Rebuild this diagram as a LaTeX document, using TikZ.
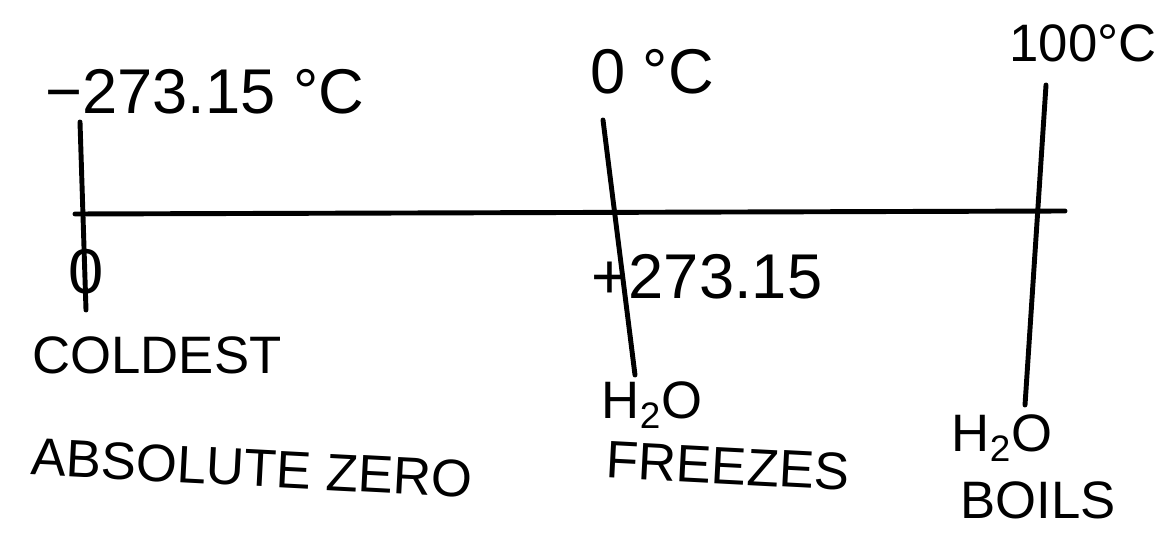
\documentclass[tikz,border=0pt]{standalone}
\usepackage{fontspec}
\setmainfont{Liberation Sans}
\usetikzlibrary{positioning}
\tikzset{
  pen/.style={line width=2.8pt, line cap=round},
  lbl/.style={inner sep=0pt, font=\fontsize{30}{34}\selectfont},
  biglbl/.style={inner sep=0pt, font=\fontsize{36}{40}\selectfont}
}

\begin{document}
\begin{tikzpicture}[x=0.02cm, y=-0.02cm]
    \useasboundingbox (0,0) rectangle (1155,533);

    % temperature axis
    \coordinate (axisL) at (75,214);
    \coordinate (axisR) at (1065,211);
    \draw[pen] (axisL) -- (axisR);

    % marks
    \coordinate (zeroTop) at (80,122);
    \coordinate (zeroBot) at (86,310);
    \coordinate (frzTop) at (603,120);
    \coordinate (frzBot) at (635,375);
    \coordinate (boilTop) at (1046,85);
    \coordinate (boilBot) at (1025,405);
    \draw[pen] (zeroTop) -- (zeroBot);
    \draw[pen] (frzTop) -- (frzBot);
    \draw[pen] (boilTop) -- (boilBot);

    % celsius labels
    \node[biglbl] (celsZero) at (205,92) {−273.15 \textdegree C};
    \node[biglbl] (celsFrz) at (652,72) {0 \textdegree C};
    \node[lbl] (celsBoil) at (1083,43) {100\textdegree C};

    % kelvin labels
    \node[biglbl] (kelZero) at (86,272) {0};
    \node[biglbl] (kelFrz) at (707,277) {+273.15};

    % descriptions
    \node[lbl] (coldest) at (157,355) {COLDEST};
    \node[lbl, rotate=-3] (absZero) at (252,468) {ABSOLUTE ZERO};
    \node[lbl] (waterFrz) at (652,405) {H\textsubscript{2}O};
    \node[lbl, rotate=-3] (freezes) at (728,466) {FREEZES};
    \node[lbl] (waterBoil) at (1002,438) {H\textsubscript{2}O};
    \node[lbl] (boils) at (1038,500) {BOILS};
  \end{tikzpicture}
\end{document}
